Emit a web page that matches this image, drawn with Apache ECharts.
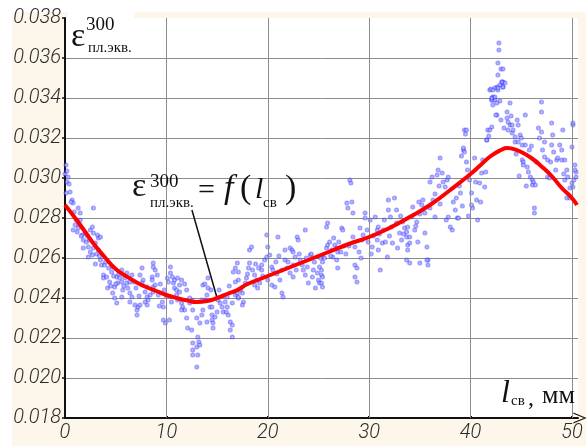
<!DOCTYPE html>
<html>
<head>
<meta charset="utf-8">
<script src="https://cdn.jsdelivr.net/npm/echarts@6/dist/echarts.min.js"></script>
<style>
  html, body { margin: 0; padding: 0; background: #ffffff; }
  #chart { width: 588px; height: 448px; }
</style>
</head>
<body>
<div id="chart"></div>
<script>
// Measured points: [weld length l_св, mm ; equivalent plastic strain]
const scatterPoints = [
  [0.1,0.03065],[0.2,0.03035],[0,0.0302],[0.3,0.03005],[0.2,0.0298],[0.5,0.0293],[0.1,0.02925],[0.7,0.0289],[0.8,0.02875],[1.3,0.0285],
  [1.5,0.02825],[2.8,0.0285],[1.5,0.0279],[1.0,0.02765],[0.8,0.0274],[1.2,0.0273],[1.3,0.0275],[1.7,0.02715],[2.0,0.02725],[2.5,0.0274],
  [2.7,0.02755],[2.8,0.02725],[3.2,0.02715],[3.3,0.027],[3.5,0.02705],[1.8,0.0269],[2.1,0.0268],[2.3,0.02655],[1.8,0.0265],[2.5,0.0263],
  [2.8,0.0265],[3.0,0.02675],[2.7,0.02615],[2.3,0.02605],[3.3,0.0264],[3.5,0.0259],[3.6,0.02565],[3.9,0.02565],[3.8,0.02515],[3.8,0.025],
  [4.1,0.02505],[4.4,0.0248],[4.6,0.0253],[4.7,0.02555],[5.1,0.02505],[5.4,0.025],[5.2,0.02475],[5.6,0.0248],[5.9,0.025],[6.1,0.02475],
  [6.4,0.0248],[4.9,0.02455],[4.7,0.02425],[4.9,0.024],[5.1,0.02375],[5.6,0.02405],[5.7,0.0244],[6.4,0.02425],[6.6,0.02405],[6.4,0.0238],
  [6.9,0.02365],[7.1,0.0234],[7.1,0.02315],[7.2,0.02355],[7.4,0.02365],[7.6,0.0255],[7.4,0.02515],[7.7,0.0249],[7.6,0.02475],[7.9,0.0243],
  [8.1,0.02405],[8.2,0.0239],[7.9,0.0238],[8.1,0.02365],[8.4,0.02415],[8.6,0.02505],[8.7,0.02555],[8.7,0.02455],[8.1,0.02455],[4.2,0.0245],
  [5.6,0.0254],[6.1,0.02525],[6.6,0.02515],
  [0.4,0.0297],[0.6,0.0288],[0.9,0.0283],[1.1,0.0279],[1.4,0.0277],[1.6,0.0271],[2.2,0.0271],[2.4,0.0269],[3.1,0.0262],[3.4,0.0261],
  [4.0,0.0258],[4.3,0.0255],[4.8,0.0251],[5.3,0.0252],[5.8,0.0246],[6.2,0.0245],[6.8,0.0248],[7.0,0.0245],[7.3,0.0241],[3.0,0.0257],
  [4.5,0.0246],[5.0,0.0247],
  [8.7,0.02575],[8.9,0.0254],[9.1,0.02515],[8.6,0.0249],[8.9,0.02465],[8.7,0.0243],[9.2,0.02415],[9.6,0.0238],[9.7,0.02355],[9.9,0.02275],
  [9.7,0.0229],[10.1,0.025],[10.2,0.0248],[10.4,0.02555],[10.4,0.02525],[10.6,0.02505],[10.7,0.02475],[10.8,0.0245],[11.0,0.0244],[10.8,0.0249],
  [11.1,0.025],[11.5,0.0249],[11.3,0.02465],[11.0,0.02415],[11.1,0.0239],[11.5,0.02375],[11.6,0.02355],[11.8,0.0234],[11.5,0.0234],[12.0,0.023],
  [12.1,0.0225],[12.5,0.0224],[12.6,0.02175],[12.6,0.0214],[12.6,0.02115],[13.0,0.02055],[13.1,0.02205],[13.2,0.0218],[13.0,0.02155],[13.3,0.02165],
  [13.1,0.02115],[13.0,0.023],[13.3,0.02275],[13.5,0.02315],[13.6,0.0234],[13.8,0.0239],[14.0,0.02415],[14.1,0.0245],[14.1,0.025],[14.3,0.02355],
  [14.5,0.02315],[14.5,0.0229],[14.6,0.02275],[14.6,0.0225],[14.8,0.02305],[15.0,0.0233],[15.1,0.0239],[15.3,0.02375],[15.5,0.02355],[15.6,0.0233],
  [15.8,0.0238],[16.0,0.02405],[16.0,0.02355],[16.1,0.02315],[16.3,0.0228],[16.5,0.02265],[16.3,0.0224],[16.5,0.02205],[16.6,0.0253],[16.8,0.0255],
  [17.0,0.02575],[17.1,0.0253],[17.1,0.0249],[16.8,0.02415],[17.0,0.02425],[17.1,0.024],[16.5,0.02375],[13.6,0.02465],[13.5,0.0239],[12.5,0.0239],
  [12.6,0.0234],[12.3,0.02375],[14.5,0.02355],
  [9.4,0.0247],[9.8,0.0244],[10.0,0.0241],[10.5,0.0238],[11.3,0.0243],[12.0,0.0244],[12.3,0.0240],[11.8,0.0247],[13.8,0.0247],[14.4,0.0244],
  [15.2,0.0244],[15.6,0.0241],[16.2,0.0246],[16.8,0.0248],[9.3,0.0236],[10.3,0.0229],[14.0,0.0228],[15.9,0.0233],
  [17.1,0.02405],[17.5,0.02425],[17.3,0.0244],[17.6,0.0238],[17.5,0.02365],[17.8,0.02475],[17.9,0.025],[18.1,0.0255],[18.2,0.0264],[18.4,0.02655],
  [18.2,0.02575],[18.5,0.0254],[18.7,0.02515],[18.9,0.0249],[18.7,0.02465],[19.0,0.0245],[19.2,0.02475],[19.4,0.0254],[19.4,0.02565],[19.7,0.0259],
  [19.9,0.02715],[20.0,0.02655],[19.9,0.02605],[20.2,0.02615],[20.4,0.02555],[20.5,0.0254],[20.0,0.0249],[20.4,0.02465],[20.7,0.02455],[21.0,0.02705],
  [21.2,0.0249],[21.4,0.0254],[21.4,0.02425],[21.5,0.02405],[21.7,0.0264],[21.7,0.0259],[22.0,0.0258],[22.2,0.0265],[22.4,0.0264],[22.5,0.0263],
  [22.7,0.02605],[22.9,0.02705],[23.0,0.0269],[23.2,0.0259],[23.4,0.02565],[23.5,0.0254],[23.7,0.0274],[23.7,0.02515],[23.9,0.02555],[24.0,0.02475],
  [24.2,0.02615],[24.4,0.02505],[24.5,0.0254],[24.7,0.0245],[24.9,0.02525],[25.0,0.0249],[25.1,0.02555],[25.1,0.02475],[25.3,0.02515],[25.4,0.02605],
  [22.5,0.02565],[22.2,0.02525],[22.5,0.02505],
  [18.0,0.0252],[18.8,0.0257],[19.5,0.0251],[20.8,0.0258],[21.1,0.0261],[21.9,0.0255],[23.1,0.0262],[23.8,0.0260],[24.6,0.0258],[25.2,0.0260],
  [20.9,0.0252],[19.1,0.0255],[22.8,0.0254],[24.3,0.0262],
  [25.3,0.0254],[25.4,0.02505],[25.3,0.02475],[25.4,0.02455],[25.4,0.0258],[25.6,0.026],[25.8,0.0265],[25.9,0.02665],[25.8,0.02755],[25.9,0.02775],
  [26.1,0.0268],[26.3,0.0264],[26.4,0.02605],[26.6,0.02665],[26.8,0.0265],[26.9,0.0263],[26.8,0.0259],[26.9,0.0255],[27.3,0.0275],[27.4,0.0274],
  [27.8,0.02875],[27.9,0.0285],[28.3,0.0288],[28.1,0.0299],[28.2,0.02975],[28.4,0.02825],[28.4,0.02705],[28.6,0.02655],[28.6,0.02565],[28.8,0.0255],
  [28.6,0.02505],[28.8,0.0248],[29.1,0.0275],[29.3,0.0269],[29.4,0.02715],[29.6,0.02825],[29.6,0.028],[29.8,0.0274],[30.1,0.0279],[30.3,0.02655],
  [30.6,0.02805],[30.8,0.0269],[30.9,0.0264],[31.1,0.0254],[31.3,0.02675],[31.4,0.0274],[31.8,0.02605],[31.9,0.0289],[31.9,0.0284],[32.1,0.02805],
  [32.2,0.02755],[32.3,0.02675],[32.5,0.029],[32.7,0.0284],[32.8,0.0265],[33.0,0.02725],[33.2,0.0269],[33.3,0.0278],[33.5,0.0275],[33.7,0.02705],
  [33.8,0.02665],[32.7,0.02775],[30.8,0.0274],[30.9,0.02755],
  [26.2,0.0261],[27.0,0.0268],[27.5,0.0266],[27.7,0.0262],[28.0,0.0266],[29.0,0.0263],[29.9,0.0268],[30.4,0.0271],[31.0,0.0272],[31.6,0.0268],
  [32.0,0.0271],[33.4,0.0272],[26.5,0.0270],[27.2,0.0263],[29.2,0.0260],[30.2,0.0262],[31.5,0.0279],[33.1,0.0281],
  [33.7,0.0273],[33.8,0.02755],[34.0,0.02705],[34.2,0.02805],[34.3,0.02855],[34.0,0.02675],[33.8,0.0264],[34.5,0.0274],[34.7,0.0278],[34.8,0.0268],
  [35.0,0.02575],[35.2,0.02865],[35.3,0.0289],[35.5,0.02825],[35.5,0.02725],[35.7,0.02655],[35.8,0.0259],[35.8,0.02565],[36.0,0.0298],[36.2,0.03005],
  [36.3,0.0289],[36.5,0.02805],[36.7,0.03015],[36.8,0.0304],[37.0,0.031],[37.2,0.03025],[37.3,0.0298],[37.5,0.02955],[37.7,0.0299],[37.8,0.02805],
  [38.0,0.02755],[38.2,0.0274],[38.3,0.0288],[38.5,0.0284],[38.7,0.028],[38.8,0.028],[39.0,0.02925],[39.3,0.0314],[39.4,0.0324],[39.6,0.0308],
  [39.7,0.0304],[39.9,0.0299],[40.1,0.02925],[40.2,0.0285],[40.4,0.031],[40.6,0.0289],[40.7,0.0279],[40.9,0.02975],[41.1,0.03025],[41.2,0.0309],
  [41.4,0.02955],[41.6,0.0319],[41.7,0.0324],[41.9,0.0344],[42.1,0.0339],[42.2,0.03405],[42.1,0.03255],[40.1,0.02865],[37.8,0.03005],
  [33.7,0.0259],[34.0,0.02575],[35.7,0.0259],[34.6,0.0276],[35.0,0.0282],[36.0,0.0285],[36.5,0.0292],[37.0,0.0287],[37.6,0.0279],[38.6,0.0290],
  [39.2,0.0286],[39.8,0.0281],[40.5,0.0298],[41.0,0.0288],[41.5,0.0303],[36.9,0.0296],[38.9,0.0296],[34.9,0.0288],
  [42.8,0.03675],[42.8,0.0364],[42.7,0.03575],[43.0,0.03545],[43.2,0.03545],[42.7,0.03515],[43.1,0.0348],[43.2,0.0348],[42.6,0.03455],[42.4,0.0345],
  [42.0,0.03445],[42.7,0.0344],[43.2,0.03455],[42.2,0.034],[42.1,0.0339],[42.4,0.0339],[42.2,0.03365],[42.9,0.03385],[42.6,0.03315],[41.9,0.0324],
  [41.8,0.0321],[41.6,0.0319],[39.6,0.0324],[39.5,0.0322],[39.3,0.0315],[39.4,0.0313],[39.1,0.0311],
  [42.2,0.0344],[42.1,0.034],[42.4,0.03405],[42.6,0.03375],[42.9,0.03465],[43.1,0.0348],[42.7,0.0345],[43.4,0.03475],[43.2,0.03455],[42.5,0.03315],
  [43.9,0.03375],[43.6,0.0333],[43.6,0.033],[43.7,0.0328],[43.9,0.03265],[44.1,0.03265],[43.7,0.0324],[44.1,0.03225],[44.2,0.0324],[44.4,0.03205],
  [44.6,0.0329],[44.7,0.03265],[44.9,0.03215],[44.4,0.0318],[44.7,0.0318],[45.1,0.03165],[45.4,0.03315],[45.4,0.03165],[45.1,0.0309],[45.2,0.0308],
  [45.2,0.03065],[45.6,0.03055],[45.7,0.0303],[45.9,0.03005],[46.1,0.0299],[46.2,0.0298],[46.1,0.02965],[46.4,0.02965],[46.3,0.0285],[46.3,0.02825],
  [47.0,0.0338],[47.0,0.0333],[46.8,0.032],[47.0,0.0323],[47.1,0.0314],[47.3,0.03105],[47.6,0.0309],[47.6,0.03005],[47.8,0.03],[48.0,0.03275],
  [48.0,0.03165],[48.1,0.03215],[48.2,0.0313],[48.5,0.0309],[48.6,0.031],[48.8,0.03165],[49.0,0.0314],[49.1,0.0324],[49.0,0.0309],[49.3,0.0309],
  [49.5,0.0304],[49.3,0.0299],[49.6,0.03005],[50.0,0.03155],[50.1,0.03265],[50.1,0.03275],[50.3,0.03065],[50.4,0.0303],[50.4,0.03005],[50.0,0.02975],
  [49.8,0.0295],[49.5,0.029],[49.8,0.029],[50.1,0.02955],[50.2,0.0299],[50.3,0.0304],[46.7,0.0325],
  [43.0,0.0329],[43.3,0.0325],[44.0,0.0331],[44.5,0.0312],[45.0,0.0320],[45.8,0.0314],[46.5,0.0308],[47.3,0.0318],[47.9,0.0308],[48.4,0.0304],
  [49.2,0.0302],[46.0,0.0316],[44.8,0.0301],[45.5,0.0296]
];

// Fitted dependence ε = f(l_св)
const curveX = [0, 1, 2, 3, 4, 5, 6, 7, 8, 9, 10, 11, 12, 13, 14, 15, 16, 17, 18, 19, 20, 22, 24, 26, 28, 30, 32, 34, 36, 38, 40, 41, 42, 43, 43.6, 44, 45, 46, 47, 48, 49, 50, 50.5];
const curveY = [0.02865, 0.0280, 0.0273, 0.0266, 0.0260, 0.02545, 0.0251, 0.0248, 0.02455, 0.02435, 0.02415, 0.024, 0.02388, 0.0238, 0.02385, 0.0240, 0.0242, 0.0244, 0.0247, 0.0249, 0.0251, 0.0255, 0.0259, 0.0263, 0.0267, 0.02705, 0.0275, 0.02805, 0.02865, 0.0294, 0.0302, 0.03065, 0.0311, 0.0314, 0.0315, 0.03148, 0.0313, 0.0310, 0.03058, 0.0301, 0.0295, 0.0290, 0.02865];

// Axis ticks
const xTicks = [0, 10, 20, 30, 40, 50];
const yMin = 0.018, yMax = 0.038, yStep = 0.002;
const xMax = 50.6;

// Leader line of the formula callout: from text to the curve
const leaderFrom = [12.52, 0.0284];
const leaderTo = [15.0, 0.0240];

const curveData = curveX.map((x, i) => [x, curveY[i]]);

const chart = echarts.init(document.getElementById('chart'), null, { renderer: 'canvas' });

const serif = "'Liberation Serif', 'DejaVu Serif', serif";
const tickFont = "Roboto, 'DejaVu Sans', sans-serif";

function txt(text, x, y, size, opts) {
  opts = opts || {};
  return {
    type: 'text', x: x, y: y, z: 50, silent: true,
    style: {
      text: text,
      fontFamily: serif,
      fontSize: size,
      fontStyle: opts.italic ? 'italic' : 'normal',
      fill: '#111',
      align: 'left',
      verticalAlign: 'middle'
    }
  };
}

chart.setOption({
  backgroundColor: '#ffffff',
  animation: false,
  grid: {
    left: 65, right: 10, top: 18, bottom: 30,
    show: true, backgroundColor: '#ffffff', borderWidth: 0
  },
  xAxis: {
    type: 'value', min: 0, max: xMax, interval: 10,
    axisLine: {
      show: true, onZero: false,
      lineStyle: { color: '#111', width: 2 },
      symbol: ['none', 'path://M0,12 L5,0 L10,12 L8.8,12 L5,2.5 L1.2,12 Z'],
      symbolSize: [11, 14], symbolOffset: [0, 2]
    },
    axisTick: { show: true, length: 2, inside: true, lineStyle: { color: '#111', width: 2 } },
    splitLine: { show: false },
    axisLabel: {
      showMaxLabel: false,
      margin: 5,
      fontFamily: tickFont, fontStyle: 'italic', fontWeight: 300, fontSize: 20, color: '#2a2a2a',
      formatter: v => (xTicks.indexOf(v) >= 0 ? String(v) : '')
    }
  },
  yAxis: {
    type: 'value', min: yMin, max: yMax, interval: yStep,
    axisLine: { show: true, onZero: false, lineStyle: { color: '#111', width: 2 } },
    axisTick: { show: true, length: 3, lineStyle: { color: '#111', width: 1.5 } },
    splitLine: { show: true, showMaxLine: false, lineStyle: { color: '#8c8c8c', width: 1 } },
    axisLabel: {
      margin: 4,
      fontFamily: tickFont, fontStyle: 'italic', fontWeight: 300, fontSize: 20, color: '#2a2a2a',
      formatter: v => v.toFixed(3)
    }
  },
  graphic: [
    // cream page frame and white header strip
    { type: 'rect', z: -10, silent: true, shape: { x: 12, y: 12, width: 574, height: 434 }, style: { fill: '#fcf7ea' } },
    { type: 'rect', z: -9, silent: true, shape: { x: 68, y: 12, width: 66, height: 8 }, style: { fill: '#ffffff' } },
    // y-axis title ε^300_пл.экв.
    txt('ε', 71, 37, 34),
    txt('300', 86, 25, 19),
    txt('пл.экв.', 88, 48, 15),
    // x-axis title l_св, мм
    txt('l', 501, 394, 32, { italic: true }),
    txt('св', 511, 401, 15),
    txt(',', 528, 399, 24),
    txt('мм', 542, 396, 26),
    // formula callout
    txt('ε', 132, 187, 34),
    txt('300', 150, 182, 19),
    txt('пл.экв.', 150, 203, 15),
    txt('=', 198, 191, 30),
    txt('f', 224, 189, 34, { italic: true }),
    txt('(', 240, 189, 34),
    txt('l', 255, 190, 30, { italic: true }),
    txt('св', 263, 203, 15),
    txt(')', 285, 189, 34)
  ],
  series: [
    {
      // vertical grid lines at the labelled x ticks
      type: 'line', data: [], z: 1, silent: true,
      markLine: {
        silent: true, symbol: ['none', 'none'], animation: false,
        label: { show: false },
        lineStyle: { color: '#8c8c8c', width: 1, type: 'solid' },
        data: xTicks.filter(v => v > 0).map(v => ({ xAxis: v }))
      }
    },
    {
      type: 'scatter', data: scatterPoints, z: 3,
      symbol: 'emptyCircle', symbolSize: 3,
      itemStyle: { color: 'rgba(50,50,255,0.6)', borderColor: 'rgba(50,50,255,0.6)', borderWidth: 0.8 }
    },
    {
      type: 'line', data: curveData, z: 5, smooth: true, showSymbol: false, symbol: 'none',
      lineStyle: { color: '#ff0000', width: 4 },
      markLine: {
        silent: true, symbol: ['none', 'none'], animation: false,
        label: { show: false },
        lineStyle: { color: '#111', width: 1.5, type: 'solid' },
        data: [[{ coord: leaderFrom }, { coord: leaderTo }]]
      }
    }
  ]
});
</script>
</body>
</html>
